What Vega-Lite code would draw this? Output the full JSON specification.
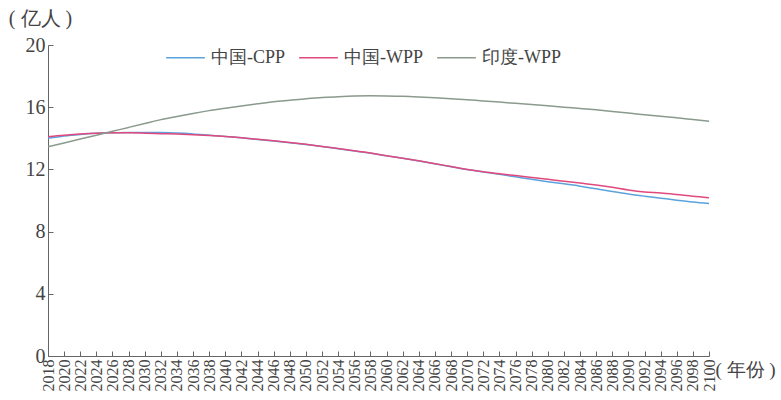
{
  "$schema": "https://vega.github.io/schema/vega-lite/v6.json",
  "width": 661,
  "height": 311,
  "autosize": {"type": "none"},
  "padding": {"left": 48, "top": 45, "right": 72, "bottom": 44},
  "background": "white",
  "config": {
    "font": "Liberation Serif",
    "view": {"stroke": null}
  },
  "data": {"values": [
    {"year": 2018, "series": "中国-CPP", "value": 14.0}, {"year": 2020, "series": "中国-CPP", "value": 14.15}, {"year": 2022, "series": "中国-CPP", "value": 14.25}, {"year": 2024, "series": "中国-CPP", "value": 14.32},
    {"year": 2026, "series": "中国-CPP", "value": 14.36}, {"year": 2028, "series": "中国-CPP", "value": 14.38}, {"year": 2030, "series": "中国-CPP", "value": 14.38}, {"year": 2032, "series": "中国-CPP", "value": 14.37},
    {"year": 2034, "series": "中国-CPP", "value": 14.34}, {"year": 2036, "series": "中国-CPP", "value": 14.28}, {"year": 2038, "series": "中国-CPP", "value": 14.2}, {"year": 2040, "series": "中国-CPP", "value": 14.12},
    {"year": 2042, "series": "中国-CPP", "value": 14.03}, {"year": 2044, "series": "中国-CPP", "value": 13.93}, {"year": 2046, "series": "中国-CPP", "value": 13.83}, {"year": 2048, "series": "中国-CPP", "value": 13.72},
    {"year": 2050, "series": "中国-CPP", "value": 13.6}, {"year": 2052, "series": "中国-CPP", "value": 13.47}, {"year": 2054, "series": "中国-CPP", "value": 13.33}, {"year": 2056, "series": "中国-CPP", "value": 13.19},
    {"year": 2058, "series": "中国-CPP", "value": 13.04}, {"year": 2060, "series": "中国-CPP", "value": 12.87}, {"year": 2062, "series": "中国-CPP", "value": 12.71}, {"year": 2064, "series": "中国-CPP", "value": 12.54},
    {"year": 2066, "series": "中国-CPP", "value": 12.36}, {"year": 2068, "series": "中国-CPP", "value": 12.17}, {"year": 2070, "series": "中国-CPP", "value": 11.99}, {"year": 2072, "series": "中国-CPP", "value": 11.84},
    {"year": 2074, "series": "中国-CPP", "value": 11.68}, {"year": 2076, "series": "中国-CPP", "value": 11.52}, {"year": 2078, "series": "中国-CPP", "value": 11.36}, {"year": 2080, "series": "中国-CPP", "value": 11.21},
    {"year": 2082, "series": "中国-CPP", "value": 11.07}, {"year": 2084, "series": "中国-CPP", "value": 10.92}, {"year": 2086, "series": "中国-CPP", "value": 10.75}, {"year": 2088, "series": "中国-CPP", "value": 10.58},
    {"year": 2090, "series": "中国-CPP", "value": 10.42}, {"year": 2092, "series": "中国-CPP", "value": 10.28}, {"year": 2094, "series": "中国-CPP", "value": 10.15}, {"year": 2096, "series": "中国-CPP", "value": 10.02},
    {"year": 2098, "series": "中国-CPP", "value": 9.9}, {"year": 2100, "series": "中国-CPP", "value": 9.8},
    {"year": 2018, "series": "中国-WPP", "value": 14.1}, {"year": 2020, "series": "中国-WPP", "value": 14.2}, {"year": 2022, "series": "中国-WPP", "value": 14.28}, {"year": 2024, "series": "中国-WPP", "value": 14.33},
    {"year": 2026, "series": "中国-WPP", "value": 14.35}, {"year": 2028, "series": "中国-WPP", "value": 14.35}, {"year": 2030, "series": "中国-WPP", "value": 14.33}, {"year": 2032, "series": "中国-WPP", "value": 14.3},
    {"year": 2034, "series": "中国-WPP", "value": 14.27}, {"year": 2036, "series": "中国-WPP", "value": 14.23}, {"year": 2038, "series": "中国-WPP", "value": 14.18}, {"year": 2040, "series": "中国-WPP", "value": 14.12},
    {"year": 2042, "series": "中国-WPP", "value": 14.04}, {"year": 2044, "series": "中国-WPP", "value": 13.94}, {"year": 2046, "series": "中国-WPP", "value": 13.84}, {"year": 2048, "series": "中国-WPP", "value": 13.73},
    {"year": 2050, "series": "中国-WPP", "value": 13.61}, {"year": 2052, "series": "中国-WPP", "value": 13.48}, {"year": 2054, "series": "中国-WPP", "value": 13.34}, {"year": 2056, "series": "中国-WPP", "value": 13.2},
    {"year": 2058, "series": "中国-WPP", "value": 13.05}, {"year": 2060, "series": "中国-WPP", "value": 12.88}, {"year": 2062, "series": "中国-WPP", "value": 12.72}, {"year": 2064, "series": "中国-WPP", "value": 12.55},
    {"year": 2066, "series": "中国-WPP", "value": 12.37}, {"year": 2068, "series": "中国-WPP", "value": 12.18}, {"year": 2070, "series": "中国-WPP", "value": 12.0}, {"year": 2072, "series": "中国-WPP", "value": 11.85},
    {"year": 2074, "series": "中国-WPP", "value": 11.72}, {"year": 2076, "series": "中国-WPP", "value": 11.6}, {"year": 2078, "series": "中国-WPP", "value": 11.48}, {"year": 2080, "series": "中国-WPP", "value": 11.36},
    {"year": 2082, "series": "中国-WPP", "value": 11.24}, {"year": 2084, "series": "中国-WPP", "value": 11.12}, {"year": 2086, "series": "中国-WPP", "value": 11.0}, {"year": 2088, "series": "中国-WPP", "value": 10.85},
    {"year": 2090, "series": "中国-WPP", "value": 10.68}, {"year": 2092, "series": "中国-WPP", "value": 10.55}, {"year": 2094, "series": "中国-WPP", "value": 10.48}, {"year": 2096, "series": "中国-WPP", "value": 10.38},
    {"year": 2098, "series": "中国-WPP", "value": 10.27}, {"year": 2100, "series": "中国-WPP", "value": 10.18},
    {"year": 2018, "series": "印度-WPP", "value": 13.45}, {"year": 2020, "series": "印度-WPP", "value": 13.7}, {"year": 2022, "series": "印度-WPP", "value": 13.95}, {"year": 2024, "series": "印度-WPP", "value": 14.2},
    {"year": 2026, "series": "印度-WPP", "value": 14.45}, {"year": 2028, "series": "印度-WPP", "value": 14.7}, {"year": 2030, "series": "印度-WPP", "value": 14.95}, {"year": 2032, "series": "印度-WPP", "value": 15.2},
    {"year": 2034, "series": "印度-WPP", "value": 15.4}, {"year": 2036, "series": "印度-WPP", "value": 15.6}, {"year": 2038, "series": "印度-WPP", "value": 15.78}, {"year": 2040, "series": "印度-WPP", "value": 15.93},
    {"year": 2042, "series": "印度-WPP", "value": 16.08}, {"year": 2044, "series": "印度-WPP", "value": 16.22}, {"year": 2046, "series": "印度-WPP", "value": 16.35}, {"year": 2048, "series": "印度-WPP", "value": 16.45},
    {"year": 2050, "series": "印度-WPP", "value": 16.55}, {"year": 2052, "series": "印度-WPP", "value": 16.62}, {"year": 2054, "series": "印度-WPP", "value": 16.68}, {"year": 2056, "series": "印度-WPP", "value": 16.72},
    {"year": 2058, "series": "印度-WPP", "value": 16.73}, {"year": 2060, "series": "印度-WPP", "value": 16.72}, {"year": 2062, "series": "印度-WPP", "value": 16.7}, {"year": 2064, "series": "印度-WPP", "value": 16.66},
    {"year": 2066, "series": "印度-WPP", "value": 16.61}, {"year": 2068, "series": "印度-WPP", "value": 16.55}, {"year": 2070, "series": "印度-WPP", "value": 16.48}, {"year": 2072, "series": "印度-WPP", "value": 16.4},
    {"year": 2074, "series": "印度-WPP", "value": 16.33}, {"year": 2076, "series": "印度-WPP", "value": 16.25}, {"year": 2078, "series": "印度-WPP", "value": 16.17}, {"year": 2080, "series": "印度-WPP", "value": 16.09},
    {"year": 2082, "series": "印度-WPP", "value": 16.0}, {"year": 2084, "series": "印度-WPP", "value": 15.92}, {"year": 2086, "series": "印度-WPP", "value": 15.83}, {"year": 2088, "series": "印度-WPP", "value": 15.73},
    {"year": 2090, "series": "印度-WPP", "value": 15.62}, {"year": 2092, "series": "印度-WPP", "value": 15.52}, {"year": 2094, "series": "印度-WPP", "value": 15.42}, {"year": 2096, "series": "印度-WPP", "value": 15.32},
    {"year": 2098, "series": "印度-WPP", "value": 15.21}, {"year": 2100, "series": "印度-WPP", "value": 15.1}
  ]},
  "mark": {"type": "line", "strokeWidth": 1.5, "interpolate": "monotone"},
  "encoding": {
    "x": {
      "field": "year", "type": "quantitative",
      "scale": {"domain": [2018, 2100], "nice": false, "zero": false},
      "axis": {
        "title": "( 年份 )",
        "titleAngle": 0, "titleX": 667, "titleY": 13, "titleAlign": "left", "titleBaseline": "middle",
        "titleFontSize": 19, "titleFontWeight": "normal", "titleColor": "#444",
        "values": [2018,2020,2022,2024,2026,2028,2030,2032,2034,2036,2038,2040,2042,2044,2046,2048,2050,2052,2054,2056,2058,2060,2062,2064,2066,2068,2070,2072,2074,2076,2078,2080,2082,2084,2086,2088,2090,2092,2094,2096,2098,2100],
        "format": "d",
        "labelAngle": 270, "labelFontSize": 16, "labelColor": "#444",
        "labelPadding": 8, "labelOverlap": false, "labelBound": false, "labelFlush": false,
        "tickSize": -5, "tickColor": "#666", "domainColor": "#666", "grid": false
      }
    },
    "y": {
      "field": "value", "type": "quantitative",
      "scale": {"domain": [0, 20], "nice": false},
      "axis": {
        "title": "( 亿人 )",
        "titleAngle": 0, "titleX": -8, "titleY": -27, "titleAlign": "center", "titleBaseline": "middle",
        "titleFontSize": 20, "titleFontWeight": "normal", "titleColor": "#444",
        "values": [0, 4, 8, 12, 16, 20],
        "labelFontSize": 20, "labelColor": "#444", "labelPadding": 8,
        "tickSize": -5, "tickColor": "#666", "domainColor": "#666", "grid": false
      }
    },
    "color": {
      "field": "series", "type": "nominal",
      "scale": {"domain": ["中国-CPP", "中国-WPP", "印度-WPP"], "range": ["#5ba3dc", "#e0497e", "#8a9a8c"]},
      "legend": {
        "title": null, "orient": "none", "direction": "horizontal",
        "legendX": 117, "legendY": -8,
        "symbolType": "stroke", "symbolSize": 1500, "symbolStrokeWidth": 1.5,
        "labelFontSize": 18, "labelColor": "#444", "columnPadding": 10, "labelOffset": 5
      }
    }
  }
}
